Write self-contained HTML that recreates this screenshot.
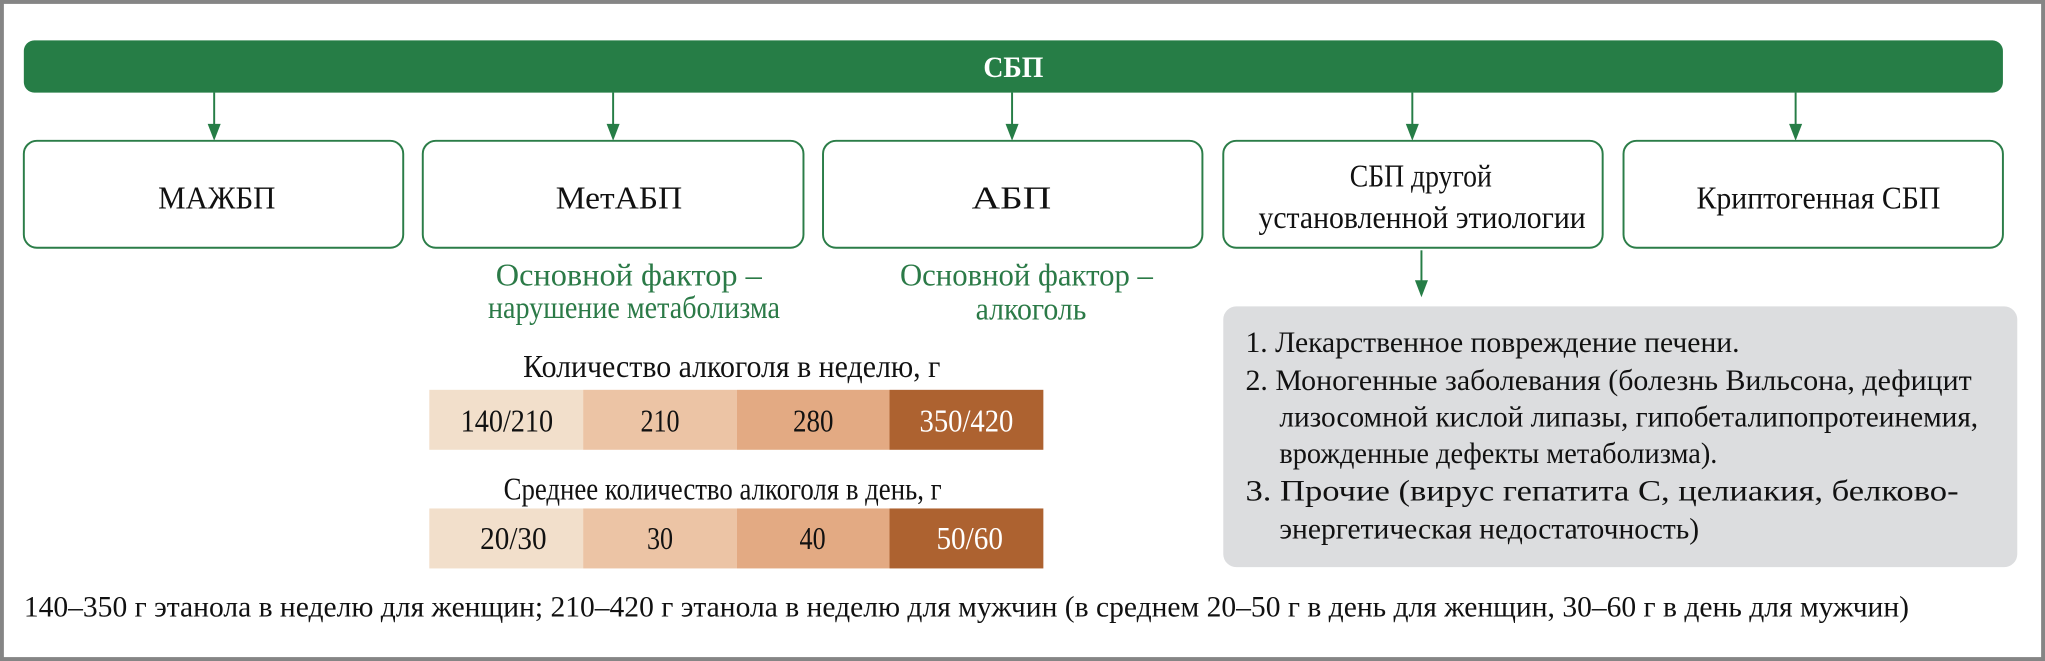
<!DOCTYPE html>
<html><head><meta charset="utf-8"><style>
html,body{margin:0;padding:0;background:#fff}
svg{display:block}
text{font-family:"Liberation Serif",serif;font-size:24px;fill:#111}
.g{fill:#2b7a47}
.s{font-size:23px}
</style></head><body>
<svg width="2045" height="661" viewBox="0 0 1568 507" xmlns="http://www.w3.org/2000/svg">
<rect x="1.2" y="1.5" width="1565.6" height="504" fill="#fff" stroke="#858585" stroke-width="3"/>
<rect x="18" y="31" width="1518" height="40" rx="8" fill="#267d46"/>
<text x="777" y="59" text-anchor="middle" textLength="46" lengthAdjust="spacingAndGlyphs" style="fill:#fff;font-weight:bold;font-size:23px">СБП</text>
<g stroke="#267d46" stroke-width="1.5" fill="#267d46">
<line x1="164" y1="71" x2="164" y2="100"/><line x1="470" y1="71" x2="470" y2="100"/>
<line x1="776" y1="71" x2="776" y2="100"/><line x1="1083" y1="71" x2="1083" y2="100"/>
<line x1="1377" y1="71" x2="1377" y2="100"/><line x1="1090" y1="192" x2="1090" y2="220"/>
</g>
<g fill="#267d46">
<path d="M159,95 L169,95 L164,108 Z"/><path d="M465,95 L475,95 L470,108 Z"/>
<path d="M771,95 L781,95 L776,108 Z"/><path d="M1078,95 L1088,95 L1083,108 Z"/>
<path d="M1372,95 L1382,95 L1377,108 Z"/><path d="M1085,215 L1095,215 L1090,228 Z"/>
</g>
<g fill="#fff" stroke="#2b7d48" stroke-width="1.5">
<rect x="18" y="108" width="291" height="82" rx="10"/>
<rect x="324" y="108" width="292" height="82" rx="10"/>
<rect x="631" y="108" width="291" height="82" rx="10"/>
<rect x="938" y="108" width="291" height="82" rx="10"/>
<rect x="1245" y="108" width="291" height="82" rx="10"/>
</g>
<text x="121" y="160" textLength="90" lengthAdjust="spacingAndGlyphs">МАЖБП</text>
<text x="426" y="160" textLength="97" lengthAdjust="spacingAndGlyphs">МетАБП</text>
<text x="745" y="160" textLength="61" lengthAdjust="spacingAndGlyphs">АБП</text>
<text x="1035" y="143" textLength="109" lengthAdjust="spacingAndGlyphs">СБП другой</text>
<text x="965" y="175" textLength="251" lengthAdjust="spacingAndGlyphs">установленной этиологии</text>
<text x="1301" y="160" textLength="187" lengthAdjust="spacingAndGlyphs">Криптогенная СБП</text>
<text class="g" x="380" y="219" textLength="204" lengthAdjust="spacingAndGlyphs">Основной фактор –</text>
<text class="g" x="374" y="244" textLength="224" lengthAdjust="spacingAndGlyphs">нарушение метаболизма</text>
<text class="g" x="690" y="219" textLength="194" lengthAdjust="spacingAndGlyphs">Основной фактор –</text>
<text class="g" x="748" y="245" textLength="85" lengthAdjust="spacingAndGlyphs">алкоголь</text>
<rect x="938" y="235" width="609" height="200" rx="10" fill="#dcdddf"/>
<text class="s" x="955" y="270" textLength="379" lengthAdjust="spacingAndGlyphs">1. Лекарственное повреждение печени.</text>
<text class="s" x="955" y="299" textLength="557" lengthAdjust="spacingAndGlyphs">2. Моногенные заболевания (болезнь Вильсона, дефицит</text>
<text class="s" x="981" y="327" textLength="536" lengthAdjust="spacingAndGlyphs">лизосомной кислой липазы, гипобеталипопротеинемия,</text>
<text class="s" x="981" y="355" textLength="336" lengthAdjust="spacingAndGlyphs">врожденные дефекты метаболизма).</text>
<text class="s" x="955" y="384" textLength="547" lengthAdjust="spacingAndGlyphs">3. Прочие (вирус гепатита С, целиакия, белково-</text>
<text class="s" x="981" y="413" textLength="322" lengthAdjust="spacingAndGlyphs">энергетическая недостаточность)</text>
<text x="401" y="289" textLength="320" lengthAdjust="spacingAndGlyphs">Количество алкоголя в неделю, г</text>
<rect x="329" y="299" width="118" height="46" fill="#f2dfcb"/>
<rect x="447" y="299" width="118" height="46" fill="#ecc4a5"/>
<rect x="565" y="299" width="117" height="46" fill="#e3aa83"/>
<rect x="682" y="299" width="118" height="46" fill="#ad6230"/>
<text x="353" y="331" textLength="71" lengthAdjust="spacingAndGlyphs">140/210</text>
<text x="491" y="331" textLength="30" lengthAdjust="spacingAndGlyphs">210</text>
<text x="608" y="331" textLength="31" lengthAdjust="spacingAndGlyphs">280</text>
<text x="705" y="331" textLength="72" lengthAdjust="spacingAndGlyphs" style="fill:#fff">350/420</text>
<text x="386" y="383" textLength="336" lengthAdjust="spacingAndGlyphs">Среднее количество алкоголя в день, г</text>
<rect x="329" y="390" width="118" height="46" fill="#f2dfcb"/>
<rect x="447" y="390" width="118" height="46" fill="#ecc4a5"/>
<rect x="565" y="390" width="117" height="46" fill="#e3aa83"/>
<rect x="682" y="390" width="118" height="46" fill="#ad6230"/>
<text x="368" y="421" textLength="51" lengthAdjust="spacingAndGlyphs">20/30</text>
<text x="496" y="421" textLength="20" lengthAdjust="spacingAndGlyphs">30</text>
<text x="613" y="421" textLength="20" lengthAdjust="spacingAndGlyphs">40</text>
<text x="718" y="421" textLength="51" lengthAdjust="spacingAndGlyphs" style="fill:#fff">50/60</text>
<text class="s" x="18" y="473" textLength="1446" lengthAdjust="spacingAndGlyphs">140–350 г этанола в неделю для женщин; 210–420 г этанола в неделю для мужчин (в среднем 20–50 г в день для женщин, 30–60 г в день для мужчин)</text>
</svg>
</body></html>
